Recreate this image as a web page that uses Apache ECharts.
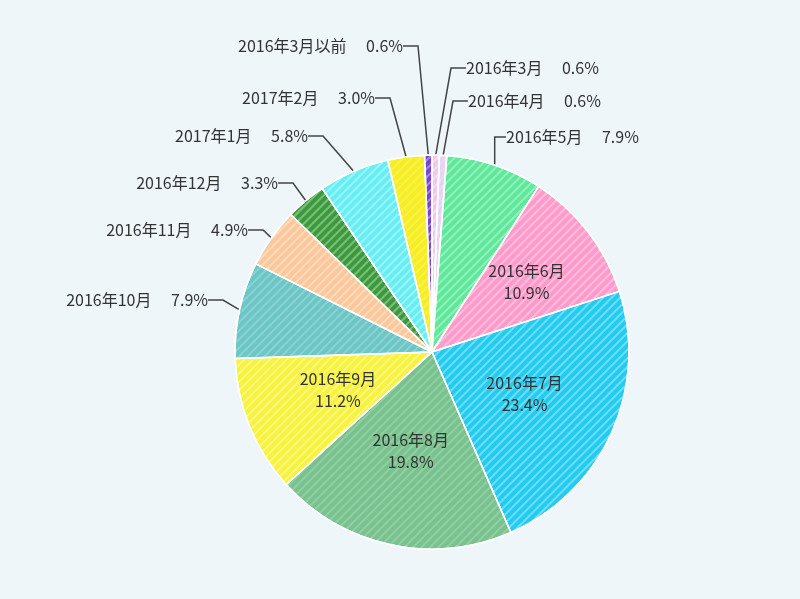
<!DOCTYPE html>
<html>
<head>
<meta charset="utf-8">
<script src="https://cdn.jsdelivr.net/npm/echarts@6/dist/echarts.min.js"></script>
<style>
html,body{margin:0;padding:0;background:#eef6f9;}
#chart{width:800px;height:599px;}
</style>
</head>
<body>
<div id="chart"></div>
<script>
// 時計回り（12時から）
var names = ['2016年3月', '2016年4月', '2016年5月', '2016年6月', '2016年7月', '2016年8月', '2016年9月',
	'2016年10月', '2016年11月', '2016年12月', '2017年1月', '2017年2月', '2016年3月以前'];
var values = [0.6, 0.6, 7.9, 10.9, 23.4, 19.8, 11.2, 7.9, 4.9, 3.3, 5.8, 3.0, 0.6];
var colors = ['#f3c6ee', '#e6d2f2', '#5ee89a', '#ff9acb', '#22cbf0', '#78c28e', '#f7f23c',
	'#6cc6c6', '#fcc79a', '#3b9a3b', '#66eef4', '#f7ee22', '#7744cc'];
var inside = [3, 4, 5, 6];// 円の中にラベル
// 外側ラベルの位置 [x, y, align]
var labelPos = {
	0: [466, 68, 'left'], 1: [468, 101, 'left'], 2: [506, 137, 'left'],
	7: [208, 300, 'right'], 8: [248, 230, 'right'], 9: [278, 183, 'right'],
	10: [308, 136, 'right'], 11: [375, 98, 'right'], 12: [403, 46, 'right']
};
var decal = { symbol: 'rect', dashArrayX: [1, 0], dashArrayY: [2, 4], rotation: -Math.PI / 4, color: 'rgba(255,255,255,0.35)' };

var data = [];
for (var i = 0; i < names.length; i++) {
	var item = { name: names[i], value: values[i], itemStyle: { color: colors[i], decal: decal } };
	if (inside.indexOf(i) >= 0) {
		item.label = { position: 'inside', lineHeight: 22, fontSize: 16,
			formatter: function (p) { return p.name + '\n' + p.value.toFixed(1) + '%'; } };
		item.labelLine = { show: false };
	}
	data.push(item);
}

var myChart = echarts.init(document.getElementById('chart'));
myChart.setOption({
	backgroundColor: '#eef6f9',
	aria: { enabled: true, decal: { show: true } },
	series: [{
		type: 'pie',
		center: [432, 352],
		radius: 197,
		startAngle: 90,
		clockwise: true,
		data: data,
		itemStyle: { borderColor: '#ffffff', borderWidth: 1.5 },
		label: {
			formatter: function (p) { return p.name + '　 ' + p.value.toFixed(1) + '%'; },
			fontSize: 16, color: '#333', fontFamily: 'Noto Sans CJK JP'
		},
		labelLine: { show: true, lineStyle: { color: '#444', width: 1.5 }, length: 15, length2: 15 },
		labelLayout: function (p) {
			var pos = labelPos[p.dataIndex];
			if (!pos) {
				if (p.dataIndex === 3) return { dx: 14, dy: -8 };
				return {};
			}
			return { x: pos[0], y: pos[1], align: pos[2], verticalAlign: 'middle' };
		}
	}]
});
</script>
</body>
</html>
